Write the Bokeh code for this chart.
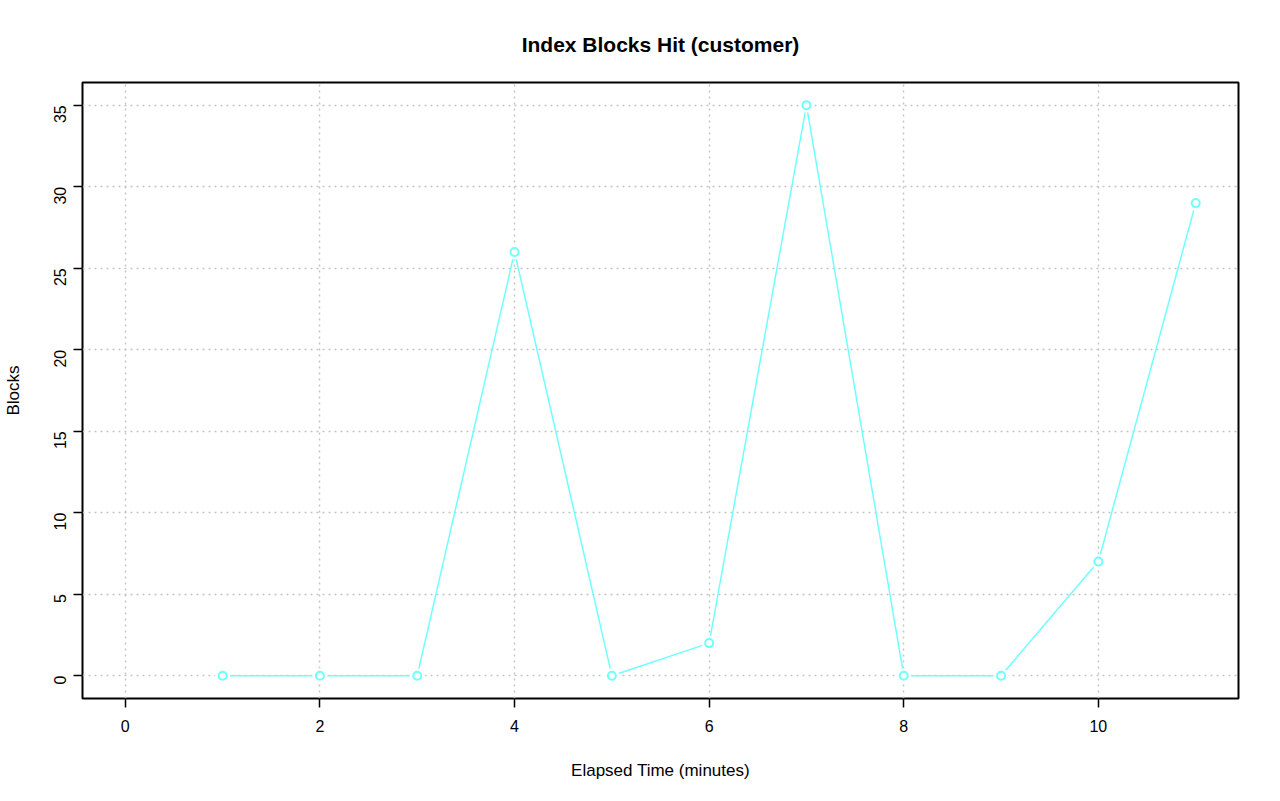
import math
from bokeh.plotting import figure
from bokeh.models import FixedTicker, Range1d
from bokeh.embed import file_html
from bokeh.resources import INLINE

minutes = [1, 2, 3, 4, 5, 6, 7, 8, 9, 10, 11]
blocks = [0, 0, 0, 26, 0, 2, 35, 0, 0, 7, 29]
x_ticks = [0, 2, 4, 6, 8, 10]
y_ticks = [0, 5, 10, 15, 20, 25, 30, 35]
title_text = "Index Blocks Hit (customer)"
x_label = "Elapsed Time (minutes)"
y_label = "Blocks"

FONT = "Liberation Sans"
ML, MR, MT, MB = 82, 34, 82, 95
W, H = ML + 1156 + MR, MT + 616 + MB

p = figure(width=W, height=H, output_backend="svg", toolbar_location=None,
           x_range=Range1d(-0.44, 11.44), y_range=Range1d(-1.4, 36.4),
           min_border_left=ML, min_border_right=MR, min_border_top=MT, min_border_bottom=MB,
           title=title_text)
p.background_fill_color = "white"
p.border_fill_color = "white"
p.outline_line_color = "black"
p.outline_line_width = 2

p.title.text_font = FONT
p.title.text_font_size = "21px"
p.title.text_font_style = "bold"
p.title.text_color = "black"
p.title.align = "center"
p.title.standoff = 53

for ax in (p.xaxis[0], p.yaxis[0]):
    ax.axis_line_color = None
    ax.major_tick_in = 0
    ax.major_tick_out = 9
    ax.major_tick_line_color = "black"
    ax.major_tick_line_width = 1.5
    ax.minor_tick_line_color = None
    ax.major_label_text_font = FONT
    ax.major_label_text_font_size = "16px"
    ax.major_label_text_color = "black"
    ax.axis_label_text_font = FONT
    ax.axis_label_text_font_size = "17px"
    ax.axis_label_text_font_style = "normal"
    ax.axis_label_text_color = "black"

p.xaxis.ticker = FixedTicker(ticks=x_ticks)
p.yaxis.ticker = FixedTicker(ticks=y_ticks)
p.xaxis.major_label_standoff = 12
p.yaxis.major_label_standoff = 13
p.yaxis.major_label_orientation = math.pi / 2
p.xaxis.axis_label = x_label
p.yaxis.axis_label = y_label
p.xaxis.axis_label_standoff = 26
p.yaxis.axis_label_standoff = 23

for g in (p.xgrid[0], p.ygrid[0]):
    g.grid_line_color = "#c4c4c4"
    g.grid_line_dash = "2 4"
    g.grid_line_width = 1.5
p.xgrid.ticker = FixedTicker(ticks=x_ticks)
p.ygrid.ticker = FixedTicker(ticks=y_ticks)

p.line(minutes, blocks, line_color="#70ffff", line_width=1.5)
p.scatter(minutes, blocks, size=15, marker="circle", fill_color="white", line_color=None)
p.scatter(minutes, blocks, size=8, marker="circle", fill_color=None,
          line_color="#70ffff", line_width=2)

open("out.html", "w").write(file_html(p, INLINE))
